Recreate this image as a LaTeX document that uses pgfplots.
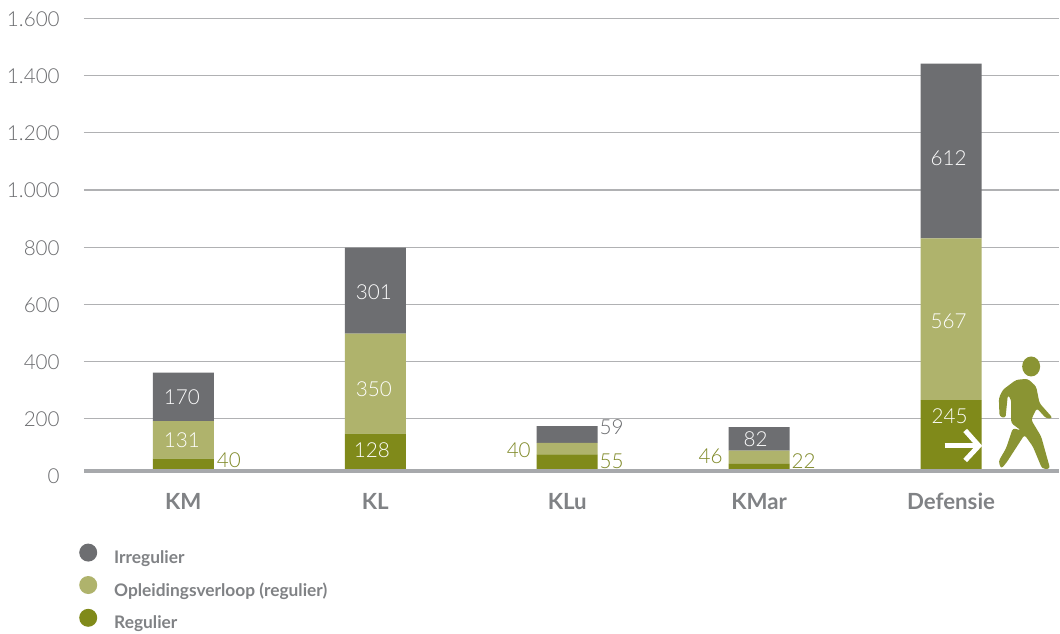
\documentclass[border=0pt]{standalone}
\usepackage{fontspec}
\setmainfont{Lato Light}[BoldFont=Lato Bold]
\usepackage{pgfplots}
\pgfplotsset{compat=1.18}
\definecolor{cdark}{HTML}{6D6E71}
\definecolor{cmid}{HTML}{AFB36C}
\definecolor{colive}{HTML}{808A1A}
\definecolor{ctext}{HTML}{808285}
\definecolor{ctick}{HTML}{6A6B6E}
\definecolor{cgreen}{HTML}{7E8826}
\definecolor{cfig}{HTML}{8A9433}
\definecolor{cgrid}{HTML}{B0B1B3}
\definecolor{cbase}{HTML}{A7A9AC}
\newcommand{\lab}[4]{\node[text=#4,font=\fontsize{15.5}{16}\selectfont,inner sep=0pt] at (#1*0.75pt,{(630-#2)*0.75pt}) {#3};}
\begin{document}
\begin{tikzpicture}[x=1pt,y=1pt]
\path[fill=white] (0,0) rectangle (795pt,472.5pt);
\begin{axis}[
  at={(63pt,115.8pt)}, anchor=south west,
  scale only axis, width=732pt, height=342.6pt,
  clip=false,
  xmin=-0.518, xmax=4.565, ymin=0, ymax=1600,
  ybar stacked, bar width=45.75pt,
  axis line style={draw=none},
  tick style={draw=none},
  ymajorgrids, grid style={cgrid,line width=0.8pt},
  ytick={200,400,...,1600},
  extra y ticks={0},
  extra tick style={grid=none},
  xtick={0,1,2,3,4},
  xticklabels={KM,KL,KLu,KMar,Defensie},
  /pgf/number format/assume math mode=true,
  /pgf/number format/1000 sep={.},
  yticklabel style={font=\fontsize{15.5}{16}\selectfont,text=ctick,inner sep=0pt,anchor=east,xshift=-18pt,yshift=-0.5pt},
  xticklabel style={font=\fontsize{16.7}{17}\bfseries\selectfont,text=ctext,inner sep=0pt,anchor=base,yshift=-25.5pt},
  legend style={at={(-3.75pt,-51pt)},anchor=north west,draw=none,fill=none,
    font=\fontsize{13}{13}\bfseries\selectfont,text=ctext,row sep=6pt,column sep=10.75pt,inner sep=0pt},
  legend cell align=left,
  reverse legend,
]
\addplot[fill=colive,draw=none,yshift=4pt,
  legend image code/.code={\fill[colive] (0.25cm,0) circle (6.75pt);}]
  coordinates {(0,40) (1,128) (2,55) (3,22) (4,245)};
\addlegendentry{Regulier}
\addplot[fill=cmid,draw=none,yshift=4pt,
  legend image code/.code={\fill[cmid] (0.25cm,0) circle (6.75pt);}]
  coordinates {(0,131) (1,350) (2,40) (3,46) (4,567)};
\addlegendentry{Opleidingsverloop (regulier)}
\addplot[fill=cdark,draw=none,yshift=4pt,
  legend image code/.code={\fill[cdark] (0.25cm,0) circle (6.75pt);}]
  coordinates {(0,170) (1,301) (2,59) (3,82) (4,612)};
\addlegendentry{Irregulier}
\end{axis}
\fill[cbase] (63pt,{(630-473)*0.75pt}) rectangle (795pt,{(630-469)*0.75pt});
\lab{182}{397}{170}{white}
\lab{182}{440}{131}{white}
\lab{229}{460}{40}{cgreen}
\lab{374}{292}{301}{white}
\lab{374}{389}{350}{white}
\lab{372}{450}{128}{white}
\lab{612}{427}{59}{ctick}
\lab{519}{450}{40}{cgreen}
\lab{612}{462}{55}{cgreen}
\lab{756}{439}{82}{white}
\lab{711}{456}{46}{cgreen}
\lab{804}{461}{22}{cgreen}
\lab{949}{158}{612}{white}
\lab{949}{321}{567}{white}
\lab{950}{416}{245}{white}
% figure and arrow, coordinates in thirds of a pixel from (900,340)
\begin{scope}[shift={(675pt,217.5pt)},x=0.25pt,y=-0.25pt]
\draw[white,line width=3.75pt] (135,318) -- (235,318);
\draw[white,line width=3.75pt,miter limit=10] (197,272) -- (238,318) -- (197,362);
\fill[cfig] (395,80) ellipse [x radius=27,y radius=30];
\fill[cfig,rounded corners=2pt] (350,120) -- (385,117) -- (410,140) -- (420,190) -- (460,235) -- (440,236) -- (412,205) -- (395,240) -- (425,290) -- (452,387) -- (428,387) -- (400,320) -- (375,285) -- (320,370) -- (305,387) -- (297,365) -- (320,325) -- (340,265) -- (365,272) -- (335,250) -- (335,180) -- (325,165) -- (318,235) -- (300,230) -- (298,175) -- (310,150) -- cycle;
\end{scope}
\end{tikzpicture}
\end{document}
